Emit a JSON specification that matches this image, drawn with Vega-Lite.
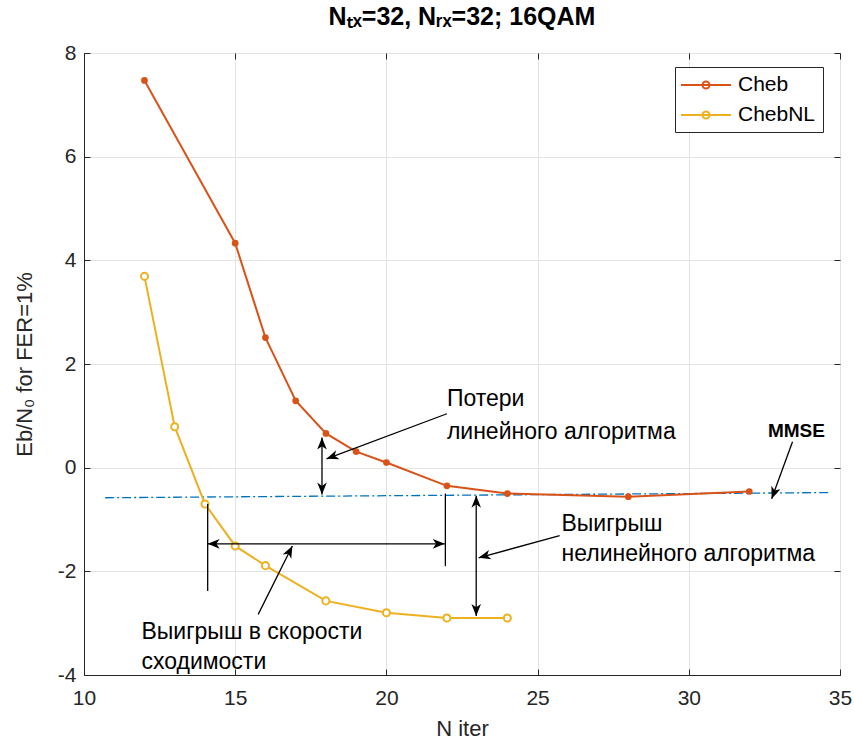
{
  "$schema": "https://vega.github.io/schema/vega-lite/v6.json",
  "width": 756,
  "height": 622,
  "autosize": "none",
  "padding": {"left": 84, "top": 53, "right": 14, "bottom": 70},
  "background": "white",
  "config": {
    "font": "Liberation Sans",
    "view": {"stroke": "#262626", "strokeWidth": 1},
    "axis": {
      "labelFont": "Liberation Sans",
      "titleFont": "Liberation Sans",
      "labelFontSize": 21,
      "titleFontSize": 22,
      "labelColor": "#262626",
      "titleColor": "#262626",
      "titleFontWeight": "normal",
      "domainColor": "#262626",
      "tickColor": "#262626",
      "gridColor": "#e3e3e3",
      "gridWidth": 1,
      "labelFlush": false,
      "labelOverlap": false
    }
  },
  "title": {
    "text": "Nₜₓ=32, Nᵣₓ=32; 16QAM",
    "font": "Liberation Sans",
    "fontSize": 25,
    "fontWeight": "bold",
    "color": "#000000",
    "offset": 12
  },
  "datasets": {
    "series": [
      {"s": "Cheb", "x": 12, "y": 7.47},
      {"s": "Cheb", "x": 15, "y": 4.33},
      {"s": "Cheb", "x": 16, "y": 2.51},
      {"s": "Cheb", "x": 17, "y": 1.29},
      {"s": "Cheb", "x": 18, "y": 0.66},
      {"s": "Cheb", "x": 19, "y": 0.31},
      {"s": "Cheb", "x": 20, "y": 0.1},
      {"s": "Cheb", "x": 22, "y": -0.35},
      {"s": "Cheb", "x": 24, "y": -0.5},
      {"s": "Cheb", "x": 28, "y": -0.56},
      {"s": "Cheb", "x": 32, "y": -0.46},
      {"s": "ChebNL", "x": 12, "y": 3.69},
      {"s": "ChebNL", "x": 13, "y": 0.79},
      {"s": "ChebNL", "x": 14, "y": -0.7},
      {"s": "ChebNL", "x": 15, "y": -1.51},
      {"s": "ChebNL", "x": 16, "y": -1.89},
      {"s": "ChebNL", "x": 18, "y": -2.57},
      {"s": "ChebNL", "x": 20, "y": -2.8},
      {"s": "ChebNL", "x": 22, "y": -2.9},
      {"s": "ChebNL", "x": 24, "y": -2.9}
    ],
    "mmse": [
      {"x": 10.7, "y": -0.58},
      {"x": 34.7, "y": -0.48}
    ],
    "segments": [
      {"x": 22.0, "y": 1.04, "x2": 18.02, "y2": 0.17},
      {"x": 17.87, "y": 0.58, "x2": 17.87, "y2": -0.52},
      {"x": 33.43, "y": 0.5, "x2": 32.74, "y2": -0.6},
      {"x": 14.09, "y": -1.47, "x2": 21.93, "y2": -1.47},
      {"x": 14.09, "y": -0.7, "x2": 14.09, "y2": -2.38},
      {"x": 21.95, "y": -0.5, "x2": 21.95, "y2": -1.9},
      {"x": 15.76, "y": -2.83, "x2": 16.89, "y2": -1.51},
      {"x": 22.97, "y": -0.54, "x2": 22.97, "y2": -2.86},
      {"x": 25.73, "y": -1.31, "x2": 23.05, "y2": -1.74}
    ],
    "heads": [
      {"x": 18.02, "y": 0.17, "a": 249.4},
      {"x": 17.87, "y": 0.58, "a": 0},
      {"x": 17.87, "y": -0.52, "a": 180},
      {"x": 32.74, "y": -0.6, "a": 200.6},
      {"x": 14.09, "y": -1.47, "a": 270},
      {"x": 21.93, "y": -1.47, "a": 90},
      {"x": 16.89, "y": -1.51, "a": 26.7},
      {"x": 22.97, "y": -0.54, "a": 0},
      {"x": 22.97, "y": -2.86, "a": 180},
      {"x": 23.05, "y": -1.74, "a": 254.8}
    ],
    "texts": [
      {"x": 22.0, "y": 1.33, "t": "Потери"},
      {"x": 22.0, "y": 0.68, "t": "линейного алгоритма"},
      {"x": 11.9, "y": -3.18, "t": "Выигрыш в скорости"},
      {"x": 11.9, "y": -3.75, "t": "сходимости"},
      {"x": 25.79, "y": -1.08, "t": "Выигрыш"},
      {"x": 25.79, "y": -1.66, "t": "нелинейного алгоритма"}
    ],
    "bold": [
      {"x": 33.56, "y": 0.71, "t": "MMSE"}
    ]
  },
  "resolve": {"axis": {"x": "independent", "y": "independent"}},
  "encoding": {
    "x": {
      "field": "x",
      "type": "quantitative",
      "scale": {"domain": [10, 35], "nice": false, "zero": false},
      "axis": null
    },
    "y": {
      "field": "y",
      "type": "quantitative",
      "scale": {"domain": [-4, 8], "nice": false, "zero": false},
      "axis": null
    }
  },
  "layer": [
    {
      "data": {"name": "mmse"},
      "mark": {"type": "line", "color": "#0072BD", "strokeWidth": 1.3, "strokeDash": [9, 3, 2, 3]},
      "encoding": {
        "x": {
          "field": "x",
          "type": "quantitative",
          "axis": {"values": [10, 15, 20, 25, 30, 35], "title": "N iter", "tickSize": -6, "labelPadding": 18, "titlePadding": 10, "grid": true}
        },
        "y": {
          "field": "y",
          "type": "quantitative",
          "axis": {"values": [-4, -2, 0, 2, 4, 6, 8], "labelExpr": "'' + datum.value", "title": "Eb/N₀ for FER=1%", "tickSize": -6, "labelPadding": 14, "titlePadding": 21, "grid": true}
        }
      }
    },
    {
      "data": {"name": "mmse"},
      "mark": {"type": "rule", "opacity": 0},
      "encoding": {
        "x": {
          "field": "x",
          "type": "quantitative",
          "axis": {"orient": "top", "values": [10, 15, 20, 25, 30, 35], "labels": false, "title": null, "tickSize": -6, "grid": false, "domain": false}
        },
        "y": {
          "field": "y",
          "type": "quantitative",
          "axis": {"orient": "right", "values": [-4, -2, 0, 2, 4, 6, 8], "labels": false, "title": null, "tickSize": -6, "grid": false, "domain": false}
        }
      }
    },
    {
      "data": {"name": "series"},
      "mark": {"type": "line", "strokeWidth": 2},
      "encoding": {
        "color": {
          "field": "s",
          "type": "nominal",
          "scale": {"domain": ["Cheb", "ChebNL"], "range": ["#D95319", "#EDB120"]},
          "legend": {
            "title": null,
            "orient": "none",
            "legendX": 591,
            "legendY": 14,
            "direction": "vertical",
            "padding": 7,
            "strokeColor": "#262626",
            "fillColor": "white",
            "labelFont": "Liberation Sans",
            "labelFontSize": 21,
            "labelColor": "#000000",
            "symbolType": "M-2.5,0L2.5,0M0.35,0A0.35,0.35,0,1,1,-0.35,0A0.35,0.35,0,1,1,0.35,0",
            "symbolSize": 400,
            "symbolStrokeWidth": 2,
            "symbolOffset": 13,
            "rowPadding": 9,
            "labelOffset": 21
          }
        }
      }
    },
    {
      "data": {"name": "series"},
      "transform": [{"filter": "datum.s === 'Cheb'"}],
      "mark": {"type": "point", "shape": "circle", "filled": true, "color": "#D95319", "size": 45, "opacity": 1}
    },
    {
      "data": {"name": "series"},
      "transform": [{"filter": "datum.s === 'ChebNL'"}],
      "mark": {"type": "point", "shape": "circle", "filled": false, "fill": "#ffffff", "stroke": "#EDB120", "strokeWidth": 2, "size": 50, "opacity": 1}
    },
    {
      "data": {"name": "segments"},
      "mark": {"type": "rule", "color": "#000000", "strokeWidth": 1.3},
      "encoding": {
        "x2": {"field": "x2"},
        "y2": {"field": "y2"}
      }
    },
    {
      "data": {"name": "heads"},
      "mark": {
        "type": "point",
        "shape": "M0,0L0.8,2L0,1.45L-0.8,2Z",
        "filled": true,
        "color": "#000000",
        "opacity": 1,
        "size": 144
      },
      "encoding": {
        "angle": {"field": "a", "type": "quantitative", "scale": null}
      }
    },
    {
      "data": {"name": "texts"},
      "mark": {"type": "text", "align": "left", "baseline": "middle", "font": "Liberation Sans", "fontSize": 23, "color": "#000000"},
      "encoding": {"text": {"field": "t"}}
    },
    {
      "data": {"name": "bold"},
      "mark": {"type": "text", "align": "center", "baseline": "middle", "font": "Liberation Sans", "fontSize": 19, "fontWeight": "bold", "color": "#000000"},
      "encoding": {"text": {"field": "t"}}
    }
  ]
}
